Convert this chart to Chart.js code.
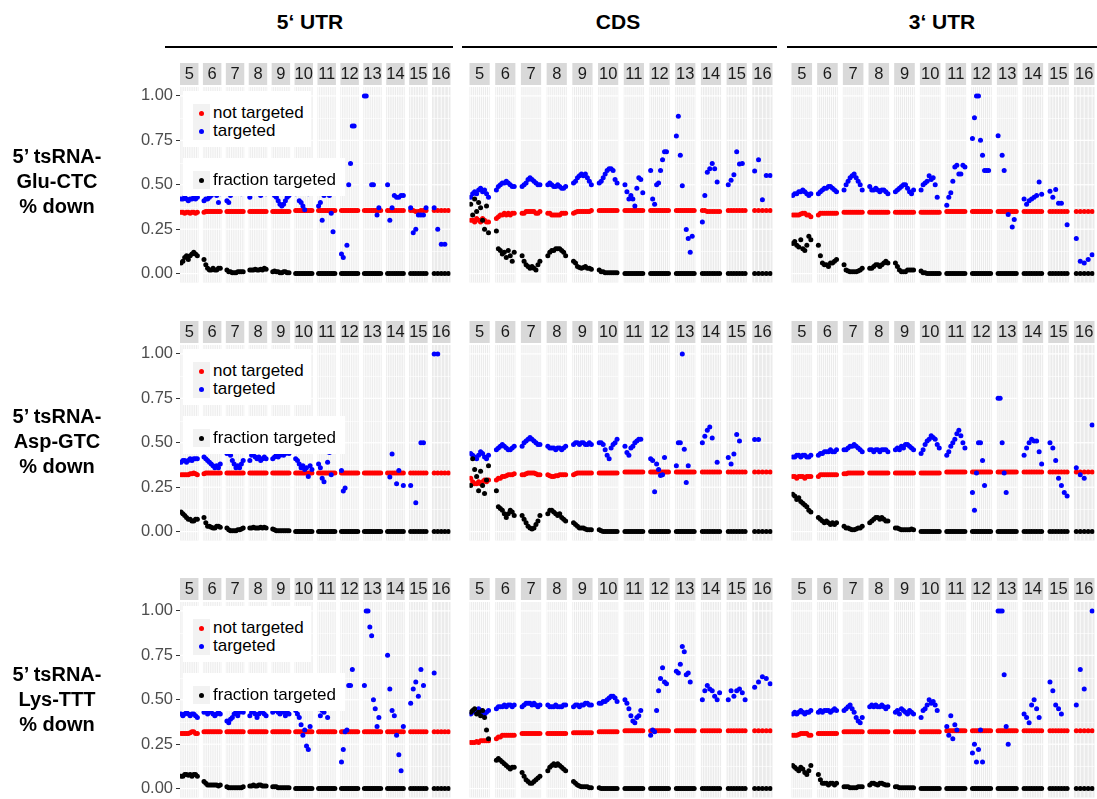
<!DOCTYPE html>
<html><head><meta charset="utf-8">
<script src="https://cdn.jsdelivr.net/npm/chart.js@4.4.1/dist/chart.umd.min.js"></script>
<style>
html,body{margin:0;padding:0;background:#fff;}
body{width:1097px;height:799px;overflow:hidden;position:relative;font-family:Arial,"Liberation Sans",sans-serif;}
canvas{position:absolute;}
.hdr{position:absolute;top:10px;height:24px;line-height:24px;font-weight:bold;font-size:21px;text-align:center;color:#000;}
.hline{position:absolute;top:46px;height:2px;background:#000;}
.rlab{position:absolute;left:0;width:114px;text-align:center;font-weight:bold;font-size:20px;line-height:25px;color:#000;}
.leg{position:absolute;background:#fff;z-index:5;}
.ent{position:absolute;left:10px;height:18px;display:flex;align-items:center;font-size:17px;color:#000;white-space:nowrap;}
.key{width:17px;height:18px;background:#F2F2F2;position:relative;margin-right:3px;}
.key i{position:absolute;left:6px;top:6.5px;width:5px;height:5px;border-radius:50%;}
</style>
</head><body>
<script>
// ---------------- data ----------------
const facetLabels = ['5','6','7','8','9','10','11','12','13','14','15','16'];
const yTickValues = [0, 0.25, 0.5, 0.75, 1];
const yMinorValues = [0.125, 0.375, 0.625, 0.875];
const seriesNames = ['not targeted', 'targeted', 'fraction targeted'];
const columnTitles = ['5\u2018 UTR', 'CDS', '3\u2018 UTR'];
const rowTitles = [['5\u2019 tsRNA-','Glu-CTC','% down'], ['5\u2019 tsRNA-','Asp-GTC','% down'], ['5\u2019 tsRNA-','Lys-TTT','% down']];

// --- Glu-CTC, 5' UTR ---
const gluUtr5NotTargeted = [
 [0.345,0.345,0.34,0.345,0.345,0.34,0.345,0.345,0.34,0.345],
 [0.345,0.35,0.35,0.35,0.35,0.35,0.35,0.35,0.35,0.35],
 [0.35,0.35,0.35,0.35,0.35,0.35,0.35,0.35,0.35,0.35],
 [0.35,0.35,0.35,0.35,0.35,0.35,0.35,0.35,0.35,0.35],
 [0.35,0.35,0.35,0.35,0.35,0.35,0.35,0.35,0.35,0.35],
 [0.355,0.355,0.355,0.355,0.355,0.355,0.355,0.355,0.355,0.355],
 [0.355,0.355,0.355,0.355,0.355,0.355,0.355,0.355,0.355,0.355],
 [0.355,0.355,0.355,0.355,0.355,0.355,0.355,0.355,0.355,0.355],
 [0.355,0.355,0.355,0.355,0.355,0.355,0.355,0.355,0.355,0.355],
 [0.355,0.355,0.355,0.355,0.355,0.355,0.355,0.355],
 [0.355,0.355,0.35,0.35,0.355,0.355,0.355],
 [0.355,0.355,0.355,0.355,0.355]];
const gluUtr5Targeted = [
 [0.42,0.42,0.43,0.42,0.41,0.42,0.42,0.43,0.42,0.43],
 [0.41,0.42,0.42,0.43,0.44,0.45,0.46,0.44,0.40,0.45],
 [0.41,0.40,0.44,0.46,0.47,0.48,0.47,0.46,0.45,0.46],
 [0.43,0.45,0.46,0.47,0.46,0.45,0.44,0.45,0.46,0.45],
 [0.45,0.44,0.43,0.41,0.39,0.38,0.39,0.41,0.43,0.44],
 [0.45,null,0.41,0.40,0.38,0.36,null,0.45,null,0.46],
 [0.38,0.40,0.30,0.44,0.45,null,0.44,0.34,0.235,null],
 [0.11,0.09,null,0.16,0.50,0.62,0.83,0.83,null,null],
 [1.00,1.00,null,null,0.50,0.50,null,0.33,0.37,null],
 [0.50,0.30,0.37,0.44,0.43,0.43,0.44,0.44],
 [0.37,0.23,0.25,0.33,0.33,0.33,0.37],
 [0.37,0.25,0.165,0.165,null]];
const gluUtr5Fraction = [
 [0.06,0.07,0.09,0.10,0.08,0.10,0.11,0.12,0.11,0.10],
 [0.08,0.05,0.03,0.02,0.02,0.03,0.02,0.02,0.03,0.03],
 [0.02,0.01,0.01,0.005,0.005,0.005,0.01,0.01,0.01,0.01],
 [0.02,0.02,0.02,0.025,0.02,0.02,0.025,0.02,0.03,0.025],
 [0.01,0.015,0.01,0.01,0.005,0.005,0.01,0.01,0.005,0.005],
 [0,0,0,0,0,0,0,0,0,0],
 [0,0,0,0,0,0,0,0,0,0],
 [0,0,0,0,0,0,0,0,0,0],
 [0,0,0,0,0,0,0,0,0,0],
 [0,0,0,0,0,0,0,0],
 [0,0,0,0,0,0,0],
 [0,0,0,0,0]];

// --- Glu-CTC, CDS ---
const gluCdsNotTargeted = [
 [0.30,0.30,0.29,0.31,0.30,0.29,0.31,0.30,0.29,0.29],
 [0.31,0.32,0.33,0.33,0.34,0.33,0.34,0.33,0.34,0.34],
 [0.34,0.34,0.35,0.35,0.35,0.35,0.35,0.34,0.34,0.35],
 [0.34,0.34,0.33,0.33,0.33,0.33,0.33,0.34,0.34,0.34],
 [0.34,0.345,0.35,0.35,0.35,0.35,0.35,0.35,0.35,0.355],
 [0.355,0.355,0.355,0.355,0.355,0.355,0.355,0.355,0.355,0.355],
 [0.355,0.355,0.355,0.355,0.355,0.355,0.355,0.355,0.355,0.355],
 [0.355,0.355,0.355,0.355,0.355,0.355,0.355,0.355,0.355,0.355],
 [0.355,0.355,0.355,0.355,0.355,0.355,0.355,0.355,0.355,0.355],
 [0.355,0.355,0.35,0.35,0.35,0.35,0.35,0.35],
 [0.355,0.355,0.355,0.355,0.355,0.355,0.355],
 [0.355,0.355,0.355,0.355,0.355]];
const gluCdsTargeted = [
 [0.43,0.45,0.46,0.45,0.47,0.48,0.46,0.47,0.45,0.43],
 [0.47,0.49,0.50,0.51,0.51,0.52,0.51,0.50,0.49,0.49],
 [0.49,0.50,0.51,0.53,0.54,0.53,0.52,0.51,0.50,0.50],
 [0.50,0.51,0.50,0.49,0.49,0.50,0.49,0.48,0.48,0.49],
 [0.51,0.52,0.54,0.55,0.56,0.55,0.56,0.54,0.52,0.50],
 [0.51,0.52,0.54,0.56,0.58,0.59,0.59,0.58,0.53,0.51],
 [0.50,0.46,0.42,0.44,0.42,0.38,0.48,0.54,0.53,0.455],
 [0.58,0.42,0.39,0.50,0.51,0.58,0.64,0.685,0.685,null],
 [0.775,0.886,0.666,0.495,null,0.248,0.198,0.12,0.21,null],
 [0.29,0.44,0.57,0.59,0.62,0.59,0.515,null],
 [0.50,0.525,0.556,0.685,0.617,0.62,null],
 [0.578,0.64,0.415,0.552,0.552]];
const gluCdsFraction = [
 [0.39,0.33,0.42,0.35,0.40,0.37,0.30,0.25,0.38,0.23],
 [0.24,0.14,0.13,0.11,0.12,0.09,0.13,0.10,0.07,0.12],
 [0.10,0.07,0.05,0.04,0.03,0.04,0.03,0.02,0.05,0.07],
 [0.10,0.12,0.13,0.13,0.14,0.14,0.14,0.13,0.12,0.10],
 [0.07,0.06,0.04,0.035,0.03,0.035,0.04,0.03,0.03,0.025],
 [0.02,0.01,0.01,0.005,0.005,0.005,0.005,0.005,0.005,0.005],
 [0,0,0,0,0,0,0,0,0,0],
 [0,0,0,0,0,0,0,0,0,0],
 [0,0,0,0,0,0,0,0,0,0],
 [0,0,0,0,0,0,0,0],
 [0,0,0,0,0,0,0],
 [0,0,0,0,0]];

// --- Glu-CTC, 3' UTR ---
const gluUtr3NotTargeted = [
 [0.33,0.33,0.33,0.33,0.335,0.34,0.34,0.33,0.33,0.32],
 [0.33,0.34,0.34,0.34,0.34,0.34,0.34,0.34,0.34,0.34],
 [0.345,0.345,0.345,0.345,0.345,0.345,0.345,0.345,0.345,0.345],
 [0.345,0.345,0.345,0.345,0.345,0.345,0.345,0.345,0.345,0.345],
 [0.345,0.345,0.345,0.345,0.345,0.345,0.345,0.345,0.345,0.345],
 [0.345,0.345,0.345,0.345,0.345,0.345,0.345,0.345,0.345,0.345],
 [0.35,0.35,0.35,0.35,0.35,0.35,0.35,0.35,0.35,0.35],
 [0.35,0.35,0.35,0.35,0.35,0.35,0.35,0.35,0.35,0.35],
 [0.35,0.35,0.35,0.35,0.35,0.35,0.35,0.35,0.35,0.35],
 [0.35,0.35,0.35,0.35,0.35,0.35,0.35,0.35],
 [0.35,0.35,0.35,0.35,0.35,0.35,0.35],
 [0.35,0.35,0.35,0.35,0.35]];
const gluUtr3Targeted = [
 [0.44,0.45,0.45,0.46,0.46,0.47,0.46,0.45,0.44,0.45],
 [0.45,0.46,0.47,0.48,0.48,0.49,0.49,0.48,0.47,0.46],
 [0.47,0.50,0.52,0.54,0.55,0.56,0.54,0.52,0.50,0.47],
 [0.49,0.47,0.47,0.48,0.47,0.46,0.47,0.47,0.46,0.45],
 [0.46,0.47,0.48,0.49,0.50,0.50,0.48,0.46,0.45,0.47],
 [0.47,0.50,0.51,0.52,0.55,0.53,0.54,0.50,0.43,null],
 [0.385,0.43,0.455,0.52,0.60,0.61,0.56,0.56,0.61,0.60],
 [0.76,0.877,1.0,1.0,0.75,0.666,0.58,0.58,0.58,null],
 [0.776,null,0.666,0.58,null,0.332,null,0.262,0.305,null],
 [0.42,0.39,0.41,0.42,0.43,0.44,0.515,0.446],
 [0.464,0.43,0.473,0.396,0.396,null,0.275],
 [0.198,0.07,0.06,0.08,0.106]];
const gluUtr3Fraction = [
 [0.17,0.18,0.16,0.15,0.19,0.14,0.13,0.16,0.21,0.19],
 [0.16,0.10,0.06,0.05,0.05,0.04,0.06,0.06,0.07,0.08],
 [0.05,0.02,0.015,0.01,0.01,0.01,0.01,0.015,0.02,0.03],
 [0.03,0.03,0.04,0.05,0.05,0.04,0.05,0.06,0.07,0.06],
 [0.06,0.04,0.02,0.01,0.01,0.01,0.02,0.02,0.02,0.02],
 [0.015,0.005,0.005,0,0,0,0,0,0,0],
 [0,0,0,0,0,0,0,0,0,0],
 [0,0,0,0,0,0,0,0,0,0],
 [0,0,0,0,0,0,0,0,0,0],
 [0,0,0,0,0,0,0,0],
 [0,0,0,0,0,0,0],
 [0,0,0,0,0]];

// --- Asp-GTC, 5' UTR ---
const aspUtr5NotTargeted = [
 [0.32,0.32,0.32,0.32,0.32,0.325,0.325,0.33,0.325,0.32],
 [0.325,0.33,0.33,0.33,0.33,0.33,0.33,0.33,0.33,0.33],
 [0.33,0.33,0.33,0.33,0.33,0.33,0.33,0.33,0.33,0.33],
 [0.33,0.33,0.33,0.33,0.33,0.33,0.33,0.33,0.33,0.33],
 [0.33,0.33,0.33,0.33,0.33,0.33,0.33,0.33,0.33,0.33],
 [0.33,0.33,0.33,0.33,0.33,0.33,0.33,0.33,0.33,0.33],
 [0.33,0.33,0.33,0.33,0.33,0.33,0.33,0.33,0.33,0.33],
 [0.33,0.33,0.33,0.33,0.33,0.33,0.33,0.33,0.33,0.33],
 [0.33,0.33,0.33,0.33,0.33,0.33,0.33,0.33,0.33,0.33],
 [0.33,0.33,0.33,0.33,0.33,0.33,0.33,0.33],
 [0.33,0.33,0.33,0.33,0.33,0.33,0.33],
 [0.33,0.33,0.33,0.33,0.33]];
const aspUtr5Targeted = [
 [0.39,0.40,0.40,0.39,0.40,0.41,0.40,0.41,0.41,0.41],
 [0.42,0.41,0.40,0.39,0.38,0.37,0.36,0.37,0.36,0.38],
 [0.44,0.45,0.43,0.40,0.38,0.36,0.37,0.36,0.38,0.40],
 [0.40,0.43,0.44,0.42,0.41,0.42,0.40,0.41,0.42,0.41],
 [0.41,0.42,0.43,0.42,0.43,0.44,0.43,0.44,0.45,0.44],
 [0.41,0.40,0.38,0.36,0.37,0.35,0.36,0.31,0.37,0.35],
 [0.38,0.36,0.30,0.28,null,0.39,0.445,0.32,null,null],
 [0.344,0.228,0.246,null,null,null,null,null,null,null],
 [null,null,null,null,null,null,null,null,null,null],
 [null,0.307,0.436,null,0.27,0.344,null,0.26],
 [0.26,null,0.163,null,0.50,0.50,null],
 [1.00,1.00,null,null,null]];
const aspUtr5Fraction = [
 [0.11,0.10,0.09,0.08,0.07,0.07,0.06,0.06,0.07,0.07],
 [0.08,0.05,0.03,0.03,0.025,0.02,0.02,0.03,0.03,0.025],
 [0.02,0.01,0.005,0.005,0.005,0.005,0.01,0.01,0.015,0.02],
 [0.02,0.02,0.025,0.02,0.02,0.02,0.025,0.02,0.025,0.02],
 [0.015,0.01,0.005,0.005,0.005,0.005,0.005,0.005,0.005,0.005],
 [0,0,0,0,0,0,0,0,0,0],
 [0,0,0,0,0,0,0,0,0,0],
 [0,0,0,0,0,0,0,0,0,0],
 [0,0,0,0,0,0,0,0,0,0],
 [0,0,0,0,0,0,0,0],
 [0,0,0,0,0,0,0],
 [0,0,0,0,0]];

// --- Asp-GTC, CDS ---
const aspCdsNotTargeted = [
 [0.30,0.28,0.27,0.27,0.28,0.27,0.28,0.29,0.28,0.29],
 [0.29,0.30,0.30,0.31,0.31,0.315,0.32,0.32,0.32,0.325],
 [0.32,0.32,0.325,0.33,0.33,0.33,0.33,0.325,0.32,0.32],
 [0.32,0.315,0.31,0.31,0.315,0.315,0.32,0.32,0.32,0.32],
 [0.32,0.325,0.33,0.33,0.33,0.33,0.33,0.33,0.33,0.33],
 [0.33,0.33,0.33,0.33,0.33,0.33,0.33,0.33,0.33,0.33],
 [0.335,0.335,0.335,0.335,0.335,0.335,0.335,0.335,0.335,0.335],
 [0.335,0.335,0.335,0.335,0.335,0.335,0.335,0.335,0.335,0.335],
 [0.335,0.335,0.335,0.335,0.335,0.335,0.335,0.335,0.335,0.335],
 [0.335,0.335,0.335,0.335,0.335,0.335,0.335,0.335],
 [0.335,0.335,0.335,0.335,0.335,0.335,0.335],
 [0.335,0.335,0.335,0.335,0.335]];
const aspCdsTargeted = [
 [0.44,0.43,0.42,0.41,0.43,0.45,0.44,0.42,0.41,0.43],
 [0.46,0.47,0.48,0.49,0.48,0.47,0.46,0.46,0.47,0.48],
 [0.48,0.50,0.51,0.52,0.53,0.52,0.51,0.50,0.49,0.49],
 [0.48,0.47,0.47,0.47,0.46,0.47,0.47,0.46,0.47,0.48],
 [0.49,0.50,0.50,0.49,0.50,0.50,0.49,0.49,0.50,0.49],
 [0.50,0.50,0.49,0.46,0.43,0.41,0.47,0.49,0.50,0.52],
 [0.48,0.445,0.43,0.47,0.48,0.50,0.51,0.52,0.52,null],
 [0.41,0.40,0.224,0.38,0.35,0.316,0.32,0.417,null,null],
 [0.371,0.50,0.50,1.00,0.463,0.276,0.371,null,null,null],
 [0.50,0.537,0.57,0.588,0.527,null,0.39,null],
 [0.417,0.38,0.436,0.546,0.51,null,null],
 [0.518,0.518,null,null,null]];
const aspCdsFraction = [
 [0.26,0.41,0.35,0.31,0.23,0.34,0.26,0.215,0.29,0.37],
 [0.23,0.14,0.13,0.12,0.10,0.08,0.10,0.12,0.11,0.09],
 [0.09,0.07,0.05,0.03,0.02,0.015,0.02,0.04,0.06,0.09],
 [0.10,0.12,0.12,0.11,0.10,0.09,0.10,0.08,0.07,0.06],
 [0.05,0.04,0.03,0.02,0.02,0.02,0.015,0.01,0.01,0.01],
 [0.01,0.005,0,0,0,0,0,0,0,0],
 [0,0,0,0,0,0,0,0,0,0],
 [0,0,0,0,0,0,0,0,0,0],
 [0,0,0,0,0,0,0,0,0,0],
 [0,0,0,0,0,0,0,0],
 [0,0,0,0,0,0,0],
 [0,0,0,0,0]];

// --- Asp-GTC, 3' UTR ---
const aspUtr3NotTargeted = [
 [0.31,0.31,0.30,0.31,0.31,0.31,0.30,0.31,0.31,0.31],
 [0.31,0.32,0.32,0.32,0.32,0.32,0.32,0.32,0.32,0.32],
 [0.325,0.325,0.33,0.33,0.33,0.33,0.33,0.33,0.33,0.33],
 [0.33,0.33,0.33,0.33,0.33,0.33,0.33,0.33,0.33,0.33],
 [0.33,0.33,0.33,0.33,0.33,0.33,0.33,0.33,0.33,0.33],
 [0.33,0.33,0.33,0.33,0.33,0.33,0.33,0.33,0.33,0.33],
 [0.335,0.335,0.335,0.335,0.335,0.335,0.335,0.335,0.335,0.335],
 [0.335,0.335,0.335,0.335,0.335,0.335,0.335,0.335,0.335,0.335],
 [0.335,0.335,0.335,0.335,0.335,0.335,0.335,0.335,0.335,0.335],
 [0.335,0.335,0.335,0.335,0.335,0.335,0.335,0.335],
 [0.335,0.335,0.335,0.335,0.335,0.335,0.335],
 [0.335,0.335,0.335,0.335,0.335]];
const aspUtr3Targeted = [
 [0.42,0.42,0.43,0.43,0.42,0.43,0.43,0.42,0.42,0.43],
 [0.43,0.44,0.44,0.45,0.45,0.45,0.46,0.45,0.45,0.46],
 [0.46,0.46,0.47,0.48,0.48,0.49,0.48,0.47,0.46,0.45],
 [0.46,0.46,0.45,0.46,0.46,0.45,0.46,0.46,0.46,0.45],
 [0.46,0.47,0.46,0.48,0.47,0.49,0.49,0.48,0.47,0.46],
 [0.44,0.46,0.49,0.51,0.52,0.54,0.53,0.52,0.49,0.47],
 [0.43,0.45,0.48,0.50,0.52,0.55,0.57,0.54,0.50,0.47],
 [0.22,0.12,0.33,0.50,0.50,0.40,0.26,null,null,null],
 [0.75,0.75,0.50,0.33,0.22,null,null,null,null,null],
 [0.43,0.47,0.50,0.52,0.51,0.51,0.45,0.38],
 [0.50,0.47,0.40,0.30,0.26,0.22,0.20],
 [0.36,0.32,0.30,null,0.60]];
const aspUtr3Fraction = [
 [0.21,0.20,0.18,0.19,0.17,0.16,0.15,0.14,0.12,0.11],
 [0.08,0.07,0.06,0.05,0.06,0.05,0.04,0.05,0.04,0.05],
 [0.03,0.02,0.02,0.015,0.01,0.01,0.015,0.02,0.02,0.03],
 [0.05,0.06,0.07,0.08,0.08,0.07,0.08,0.07,0.06,0.06],
 [0.02,0.02,0.015,0.01,0.01,0.01,0.01,0.01,0.015,0.01],
 [0,0,0,0,0,0,0,0,0,0],
 [0,0,0,0,0,0,0,0,0,0],
 [0,0,0,0,0,0,0,0,0,0],
 [0,0,0,0,0,0,0,0,0,0],
 [0,0,0,0,0,0,0,0],
 [0,0,0,0,0,0,0],
 [0,0,0,0,0]];

// --- Lys-TTT, 5' UTR ---
const lysUtr5NotTargeted = [
 [0.31,0.31,0.31,0.31,0.31,0.315,0.32,0.32,0.31,0.31],
 [0.32,0.32,0.32,0.32,0.32,0.32,0.32,0.32,0.32,0.32],
 [0.32,0.32,0.32,0.32,0.32,0.32,0.32,0.32,0.32,0.32],
 [0.32,0.32,0.32,0.32,0.32,0.32,0.32,0.32,0.32,0.32],
 [0.32,0.32,0.32,0.32,0.32,0.32,0.32,0.32,0.32,0.32],
 [0.32,0.32,0.32,0.32,0.32,0.32,0.32,0.32,0.32,0.32],
 [0.32,0.32,0.32,0.32,0.32,0.32,0.32,0.32,0.32,0.32],
 [0.32,0.32,0.32,0.32,0.32,0.32,0.32,0.32,0.32,0.32],
 [0.32,0.32,0.32,0.32,0.32,0.32,0.32,0.32,0.32,0.32],
 [0.32,0.32,0.32,0.32,0.32,0.32,0.32,0.32],
 [0.32,0.32,0.32,0.32,0.32,0.32,0.32],
 [0.32,0.32,0.32,0.32,0.32]];
const lysUtr5Targeted = [
 [0.42,0.41,0.42,0.43,0.42,0.41,0.42,0.42,0.41,0.40],
 [0.43,0.44,0.42,0.43,0.44,0.42,0.41,0.42,0.43,0.42],
 [0.38,0.37,0.39,0.40,0.42,0.43,0.41,0.43,0.44,0.43],
 [0.41,0.43,0.44,0.42,0.40,0.42,0.44,0.43,0.42,0.41],
 [0.43,0.44,0.44,0.43,0.42,0.44,0.43,0.41,0.43,0.42],
 [0.44,0.42,0.40,0.36,0.30,0.33,0.24,0.22,0.35,null],
 [0.45,0.41,0.44,0.43,null,0.40,null,null,null,null],
 [0.15,0.22,0.32,0.33,0.58,0.58,0.67,null,null,null],
 [0.58,1.00,1.00,0.91,0.86,0.50,0.45,0.35,0.40,null],
 [0.75,0.56,0.44,0.41,0.30,0.19,0.10,0.35],
 [0.48,0.56,0.60,0.52,0.67,0.58,null],
 [0.65,null,null,null,null]];
const lysUtr5Fraction = [
 [0.07,0.07,0.08,0.08,0.075,0.08,0.07,0.08,0.08,0.07],
 [0.04,0.03,0.02,0.02,0.02,0.02,0.02,0.02,0.015,0.02],
 [0.01,0.005,0.005,0.005,0.005,0.005,0.005,0.005,0.005,0.01],
 [0.015,0.015,0.02,0.015,0.015,0.02,0.02,0.015,0.015,0.015],
 [0.01,0.01,0.01,0.005,0.005,0.005,0.005,0.005,0.005,0.005],
 [0,0,0,0,0,0,0,0,0,0],
 [0,0,0,0,0,0,0,0,0,0],
 [0,0,0,0,0,0,0,0,0,0],
 [0,0,0,0,0,0,0,0,0,0],
 [0,0,0,0,0,0,0,0],
 [0,0,0,0,0,0,0],
 [0,0,0,0,0]];

// --- Lys-TTT, CDS ---
const lysCdsNotTargeted = [
 [0.26,0.26,0.26,0.265,0.26,0.27,0.27,0.27,0.27,0.27],
 [0.28,0.29,0.29,0.30,0.30,0.30,0.30,0.30,0.30,0.30],
 [0.31,0.31,0.31,0.31,0.31,0.31,0.31,0.31,0.31,0.31],
 [0.31,0.31,0.31,0.31,0.31,0.31,0.31,0.31,0.31,0.31],
 [0.315,0.315,0.315,0.315,0.315,0.315,0.315,0.315,0.315,0.315],
 [0.32,0.32,0.32,0.32,0.32,0.32,0.32,0.32,0.32,0.32],
 [0.325,0.325,0.325,0.325,0.325,0.325,0.325,0.325,0.325,0.325],
 [0.325,0.325,0.325,0.325,0.325,0.325,0.325,0.325,0.325,0.325],
 [0.325,0.325,0.325,0.325,0.325,0.325,0.325,0.325,0.325,0.325],
 [0.325,0.325,0.325,0.325,0.325,0.325,0.325,0.325],
 [0.325,0.325,0.325,0.325,0.325,0.325,0.325],
 [0.325,0.325,0.325,0.325,0.325]];
const lysCdsTargeted = [
 [0.42,0.43,0.44,0.43,0.45,0.44,0.43,0.42,0.43,0.44],
 [0.45,0.46,0.46,0.46,0.47,0.46,0.47,0.47,0.46,0.47],
 [0.46,0.47,0.48,0.48,0.48,0.47,0.48,0.47,0.46,0.47],
 [0.47,0.46,0.46,0.46,0.47,0.46,0.46,0.46,0.47,0.47],
 [0.46,0.47,0.47,0.46,0.47,0.47,0.48,0.48,0.47,0.47],
 [0.48,0.48,0.49,0.49,0.50,0.51,0.52,0.52,0.51,0.49],
 [0.50,0.48,0.45,0.41,0.38,0.37,0.40,0.41,0.44,null],
 [0.30,0.33,0.32,0.44,0.55,0.62,0.68,0.60,0.59,null],
 [0.66,0.65,0.70,0.80,0.77,0.64,0.65,0.60,null,null],
 [0.50,0.55,0.58,0.56,0.55,0.52,0.50,0.54],
 [0.50,0.55,0.52,0.55,0.56,0.54,0.50],
 [0.57,0.60,0.63,0.62,0.59]];
const lysCdsFraction = [
 [0.43,0.44,0.45,0.42,0.43,0.41,0.44,0.40,0.33,0.28],
 [0.16,0.17,0.16,0.15,0.14,0.13,0.12,0.11,0.12,0.12],
 [0.09,0.07,0.05,0.04,0.03,0.03,0.04,0.05,0.06,0.07],
 [0.10,0.12,0.13,0.14,0.13,0.14,0.13,0.12,0.11,0.10],
 [0.04,0.03,0.02,0.015,0.01,0.01,0.01,0.01,0.005,0.005],
 [0.005,0,0,0,0,0,0,0,0,0],
 [0,0,0,0,0,0,0,0,0,0],
 [0,0,0,0,0,0,0,0,0,0],
 [0,0,0,0,0,0,0,0,0,0],
 [0,0,0,0,0,0,0,0],
 [0,0,0,0,0,0,0],
 [0,0,0,0,0]];

// --- Lys-TTT, 3' UTR ---
const lysUtr3NotTargeted = [
 [0.30,0.30,0.30,0.305,0.31,0.31,0.31,0.31,0.30,0.30],
 [0.31,0.31,0.31,0.31,0.31,0.31,0.31,0.31,0.31,0.31],
 [0.32,0.32,0.32,0.32,0.32,0.32,0.32,0.32,0.32,0.32],
 [0.32,0.32,0.32,0.32,0.32,0.32,0.32,0.32,0.32,0.32],
 [0.32,0.32,0.32,0.32,0.32,0.32,0.32,0.32,0.32,0.32],
 [0.32,0.32,0.32,0.32,0.32,0.32,0.32,0.32,0.32,0.32],
 [0.325,0.325,0.325,0.325,0.325,0.325,0.325,0.325,0.325,0.325],
 [0.325,0.325,0.325,0.325,0.325,0.325,0.325,0.325,0.325,0.325],
 [0.325,0.325,0.325,0.325,0.325,0.325,0.325,0.325,0.325,0.325],
 [0.325,0.325,0.325,0.325,0.325,0.325,0.325,0.325],
 [0.325,0.325,0.325,0.325,0.325,0.325,0.325],
 [0.325,0.325,0.325,0.325,0.325]];
const lysUtr3Targeted = [
 [0.42,0.43,0.42,0.43,0.44,0.43,0.42,0.43,0.43,0.44],
 [0.43,0.44,0.43,0.44,0.44,0.44,0.43,0.44,0.45,0.44],
 [0.44,0.45,0.46,0.47,0.45,0.43,0.40,0.38,0.37,0.40],
 [0.46,0.47,0.46,0.47,0.46,0.46,0.47,0.46,0.45,0.46],
 [0.43,0.44,0.42,0.45,0.44,0.43,0.42,0.44,0.43,0.42],
 [0.40,0.44,0.45,0.47,0.50,0.48,0.49,0.47,0.44,null],
 [0.35,0.30,0.41,0.28,0.36,0.33,null,null,null,null],
 [0.20,0.25,0.15,0.22,0.33,0.15,null,null,null,null],
 [1.00,1.00,1.00,0.64,0.35,0.25,null,null,null,null],
 [0.42,0.40,0.37,0.47,0.50,0.45,0.40,null],
 [0.60,0.55,0.47,0.45,0.42,null,null],
 [0.47,0.67,0.56,null,1.00]];
const lysUtr3Fraction = [
 [0.13,0.12,0.11,0.10,0.12,0.11,0.09,0.08,0.10,0.13],
 [0.08,0.05,0.03,0.03,0.03,0.02,0.03,0.03,0.02,0.03],
 [0.01,0.01,0.01,0.005,0.005,0.005,0.005,0.01,0.01,0.01],
 [0.02,0.03,0.03,0.025,0.02,0.03,0.03,0.025,0.02,0.02],
 [0.01,0.01,0.005,0.005,0.005,0.005,0.005,0.005,0.005,0.005],
 [0,0,0,0,0,0,0,0,0,0],
 [0,0,0,0,0,0,0,0,0,0],
 [0,0,0,0,0,0,0,0,0,0],
 [0,0,0,0,0,0,0,0,0,0],
 [0,0,0,0,0,0,0,0],
 [0,0,0,0,0,0,0],
 [0,0,0,0,0]];

// ---------------- layout / styling ----------------
const panels = [
  {row:0,col:0,nt:gluUtr5NotTargeted,t:gluUtr5Targeted,f:gluUtr5Fraction},
  {row:0,col:1,nt:gluCdsNotTargeted,t:gluCdsTargeted,f:gluCdsFraction},
  {row:0,col:2,nt:gluUtr3NotTargeted,t:gluUtr3Targeted,f:gluUtr3Fraction},
  {row:1,col:0,nt:aspUtr5NotTargeted,t:aspUtr5Targeted,f:aspUtr5Fraction},
  {row:1,col:1,nt:aspCdsNotTargeted,t:aspCdsTargeted,f:aspCdsFraction},
  {row:1,col:2,nt:aspUtr3NotTargeted,t:aspUtr3Targeted,f:aspUtr3Fraction},
  {row:2,col:0,nt:lysUtr5NotTargeted,t:lysUtr5Targeted,f:lysUtr5Fraction},
  {row:2,col:1,nt:lysCdsNotTargeted,t:lysCdsTargeted,f:lysCdsFraction},
  {row:2,col:2,nt:lysUtr3NotTargeted,t:lysUtr3Targeted,f:lysUtr3Fraction}
];
const colGeom = [
  {left:180, fw:18.6, gap:4.5, axisW:80},
  {left:467, fw:20.5, gap:5.6, axisW:0},
  {left:789, fw:20.9, gap:5.2, axisW:0}
];
const rowTop = [87, 345, 602];      // top of plotting area (pixels)
const plotH = 198, stripSpace = 25;
const colors = ['#FF0000', '#0000FF', '#000000'];

function facetPoints(arr, g) {
  const out = [];
  arr.forEach((vals, fi) => {
    const n = vals.length;
    vals.forEach((v, j) => {
      if (v === null) return;
      out.push({x: fi * (g.fw + g.gap) + g.fw * (j + 0.6) / (n + 0.2), y: v});
    });
  });
  return out;
}

const facetPlugin = {
  id: 'facetBg',
  beforeDraw(chart, args, opts) {
    const g = opts.geom, counts = opts.counts;
    const {ctx, chartArea:{top, bottom}, scales:{x, y}} = chart;
    ctx.save();
    facetLabels.forEach((lab, fi) => {
      const s = fi * (g.fw + g.gap);
      const x0 = x.getPixelForValue(s), x1 = x.getPixelForValue(s + g.fw);
      ctx.fillStyle = '#EBEBEB';
      ctx.fillRect(x0, top, x1 - x0, bottom - top);
      ctx.strokeStyle = '#FFFFFF';
      ctx.lineWidth = 0.6;
      yMinorValues.forEach(v => { const py = Math.round(y.getPixelForValue(v)) + 0.5; ctx.beginPath(); ctx.moveTo(x0, py); ctx.lineTo(x1, py); ctx.stroke(); });
      ctx.lineWidth = 1.2;
      yTickValues.forEach(v => { const py = y.getPixelForValue(v); ctx.beginPath(); ctx.moveTo(x0, py); ctx.lineTo(x1, py); ctx.stroke(); });
      const n = counts[fi];
      ctx.lineWidth = 1;
      ctx.strokeStyle = 'rgba(255,255,255,0.85)';
      for (let j = 0; j < n; j++) {
        const px = x.getPixelForValue(s + g.fw * (j + 0.6) / (n + 0.2));
        ctx.beginPath(); ctx.moveTo(px, top); ctx.lineTo(px, bottom); ctx.stroke();
      }
      ctx.fillStyle = '#D9D9D9';
      ctx.fillRect(x0, top - 24, x1 - x0, 22);
      ctx.fillStyle = '#1A1A1A';
      ctx.font = '16.5px Arial, "Liberation Sans", sans-serif';
      ctx.textAlign = 'center';
      ctx.textBaseline = 'middle';
      ctx.fillText(lab, (x0 + x1) / 2, top - 12.5);
    });
    ctx.restore();
  }
};

panels.forEach(p => {
  const g = colGeom[p.col];
  const xMax = 12 * g.fw + 11 * g.gap;
  const cv = document.createElement('canvas');
  const w = Math.round(g.axisW + xMax), h = stripSpace + plotH;
  cv.width = w; cv.height = h;
  cv.style.left = (g.left - g.axisW) + 'px';
  cv.style.top = (rowTop[p.row] - stripSpace) + 'px';
  cv.style.width = w + 'px'; cv.style.height = h + 'px';
  document.body.appendChild(cv);
  const showAxis = p.col === 0;
  new Chart(cv, {
    type: 'scatter',
    data: {
      datasets: [
        {label: seriesNames[0], data: facetPoints(p.nt, g), backgroundColor: colors[0], order: 2},
        {label: seriesNames[1], data: facetPoints(p.t, g), backgroundColor: colors[1], order: 1},
        {label: seriesNames[2], data: facetPoints(p.f, g), backgroundColor: colors[2], order: 0}
      ]
    },
    options: {
      responsive: false, animation: false, devicePixelRatio: 1,
      layout: {padding: {top: stripSpace, left: 0, right: 0, bottom: 0}},
      elements: {point: {radius: 2.5, borderWidth: 0, hoverRadius: 2.5}},
      plugins: {legend: {display: false}, tooltip: {enabled: false}, facetBg: {geom: g, counts: p.nt.map(a => a.length)}},
      scales: {
        x: {type: 'linear', min: 0, max: xMax, display: false},
        y: {
          type: 'linear', min: -0.05, max: 1.05, display: showAxis,
          border: {display: false},
          grid: {drawOnChartArea: false, drawTicks: true, tickLength: 4, color: '#333333', lineWidth: 1},
          ticks: {color: '#4D4D4D', padding: 3, font: {size: 16.5, family: 'Arial, "Liberation Sans", sans-serif'}, callback: v => v.toFixed(2)},
          afterBuildTicks: sc => { sc.ticks = yTickValues.map(v => ({value: v})); },
          afterFit: sc => { sc.width = g.axisW; sc.paddingTop = 0; sc.paddingBottom = 0; }
        }
      }
    },
    plugins: [facetPlugin]
  });
});

// ---------------- text overlays ----------------
function addDiv(cls, style, html) {
  const d = document.createElement('div');
  d.className = cls; d.setAttribute('style', style); d.innerHTML = html || '';
  document.body.appendChild(d); return d;
}
const hdrCenters = [310, 618, 942];
const hdrLines = [[165, 453], [462, 777], [787, 1097]];
columnTitles.forEach((t, i) => {
  addDiv('hdr', `left:${hdrCenters[i]-100}px;width:200px;`, t);
  addDiv('hline', `left:${hdrLines[i][0]}px;width:${hdrLines[i][1]-hdrLines[i][0]}px;`);
});
const rowLabelCenters = [181, 441, 699];
rowTitles.forEach((lines, i) => {
  addDiv('rlab', `top:${rowLabelCenters[i]-37.5}px;`, lines.join('<br>'));
});
// legends (inside the left column panels)
const oneY = [96, 354, 611];
oneY.forEach(y1 => {
  const b1 = addDiv('leg', `left:183px;top:${y1-5}px;width:128px;height:56px;`);
  b1.innerHTML =
    `<div class="ent" style="top:${13}px"><span class="key"><i style="background:${colors[0]}"></i></span>${seriesNames[0]}</div>` +
    `<div class="ent" style="top:${31}px"><span class="key"><i style="background:${colors[1]}"></i></span>${seriesNames[1]}</div>`;
  const b2 = addDiv('leg', `left:183px;top:${y1+62}px;width:162px;height:38px;`);
  b2.innerHTML =
    `<div class="ent" style="top:${13}px"><span class="key"><i style="background:${colors[2]}"></i></span>${seriesNames[2]}</div>`;
});
</script>
</body></html>
